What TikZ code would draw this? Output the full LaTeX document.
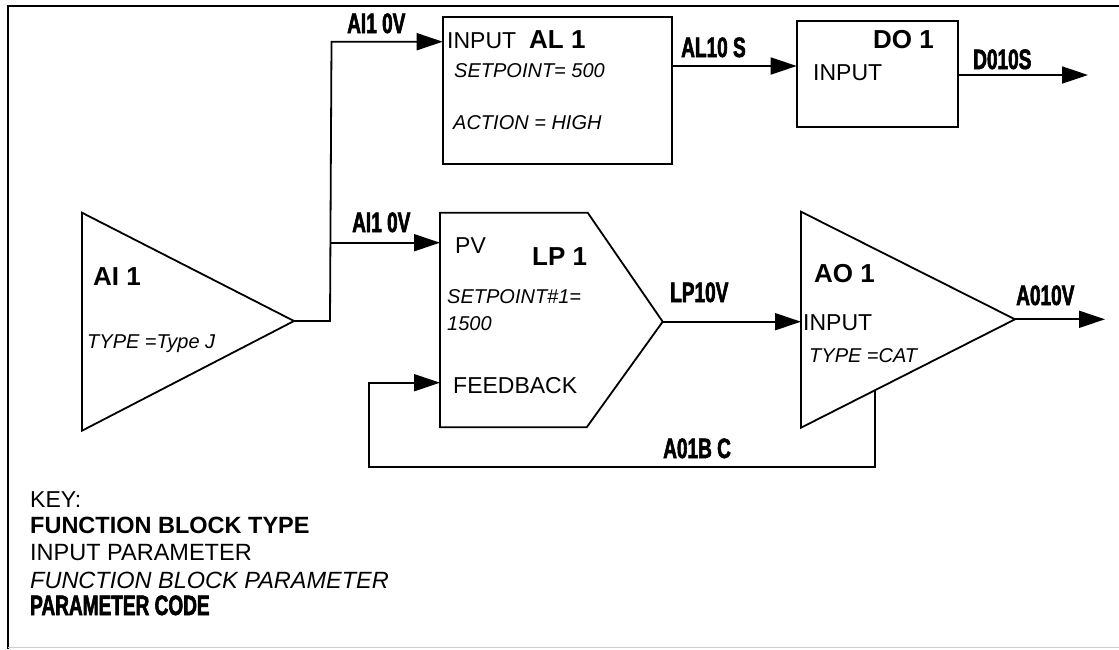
\documentclass[tikz,border=0pt]{standalone}
\usepackage{fontspec}
\setmainfont{Liberation Sans}
\newfontfamily\codefont[FakeStretch=0.68,BoldFeatures={FakeBold=2}]{Liberation Sans}
\usetikzlibrary{arrows.meta}
\tikzset{
  ln/.style={line width=1.8pt, line join=miter},
  arr/.style={ln, -{Triangle[length=26pt,width=17pt]}},
  txt/.style={anchor=base west, inner sep=0pt, font=\fontsize{23}{27}\selectfont},
  blk/.style={anchor=base west, inner sep=0pt, font=\fontsize{26}{30}\selectfont\bfseries},
  prm/.style={anchor=base west, inner sep=0pt, font=\fontsize{20}{24}\selectfont\itshape},
  code/.style={anchor=base west, inner sep=0pt, font=\fontsize{28}{32}\selectfont\codefont\bfseries},
  box/.style={ln, draw, inner sep=0pt},
}
\begin{document}
\begin{tikzpicture}[x=1pt,y=-1pt]
\useasboundingbox (0,0) rectangle (1119,649);
% frame
\draw[line width=2pt] (8,649) -- (8,6) -- (1119,6);
\draw[line width=1pt, black!20] (8,647.5) -- (1119,647.5);

% AL1 and DO1 boxes
\node[box, minimum width=229pt, minimum height=147.6pt] (AL1) at (557.2,90.5) {};
\node[box, minimum width=161pt, minimum height=106pt] (DO1) at (877.2,73.7) {};

% AI1 triangle
\coordinate (aiT) at (82,212.7);
\coordinate (aiB) at (82,430.7);
\coordinate (aiA) at (294,321);
\draw[ln] (aiT) -- (aiA) -- (aiB) -- cycle;

% LP1 pentagon
\coordinate (lpTL) at (440,212.7);
\coordinate (lpTR) at (587.7,212.7);
\coordinate (lpA) at (662.7,321.7);
\coordinate (lpBR) at (586.7,427.3);
\coordinate (lpBL) at (440,427.3);
\draw[ln] (lpTL) -- (lpTR) -- (lpA) -- (lpBR) -- (lpBL) -- cycle;

% AO1 triangle
\coordinate (aoT) at (801,211.7);
\coordinate (aoB) at (801,427.7);
\coordinate (aoA) at (1015,319.3);
\draw[ln] (aoT) -- (aoA) -- (aoB) -- cycle;

% connector points
\coordinate (j1) at (330,321);
\coordinate (j2) at (331.5,41.7);
\coordinate (alIn) at (442.7,41.7);
\coordinate (j3) at (330.6,242.7);
\coordinate (lpPV) at (440,242.7);
\coordinate (alOut) at (671.7,66);
\coordinate (doIn) at (796.7,66);
\coordinate (doOut) at (957.7,75);
\coordinate (doEnd) at (1088,75);
\coordinate (aoIn) at (801,321.7);
\coordinate (aoEnd) at (1105,319.3);
\coordinate (fbS) at (875,390.2);
\coordinate (fb1) at (875,466.7);
\coordinate (fb2) at (369,466.7);
\coordinate (fb3) at (369,382.7);
\coordinate (lpFB) at (440,382.7);

% connectors
\draw[arr] (aiA) -- (j1) -- (j2) -- (alIn);
\draw[arr] (j3) -- (lpPV);
\draw[arr] (alOut) -- (doIn);
\draw[arr] (doOut) -- (doEnd);
\draw[arr] (lpA) -- (aoIn);
\draw[arr] (aoA) -- (aoEnd);
\draw[arr] (fbS) -- (fb1) -- (fb2) -- (fb3) -- (lpFB);

% AL1 texts
\node[txt] (alInput) at (447,48) {INPUT};
\node[blk] (alName) at (529,48) {AL 1};
\node[prm] (alSp) at (454,77) {SETPOINT= 500};
\node[prm] (alAct) at (453,129) {ACTION = HIGH};

% DO1 texts
\node[blk] (doName) at (873,48) {DO 1};
\node[txt] (doInput) at (813,80) {INPUT};

% AI1 texts
\node[blk] (aiName) at (93,285) {AI 1};
\node[prm] (aiType) at (87,348) {TYPE =Type J};

% LP1 texts
\node[txt] (lpPVt) at (455,253) {PV};
\node[blk] (lpName) at (532,265) {LP 1};
\node[prm] (lpSp1) at (447,303) {SETPOINT\#1=};
\node[prm] (lpSp2) at (447,330) {1500};
\node[txt] (lpFBt) at (453,393) {FEEDBACK};

% AO1 texts
\node[blk] (aoName) at (814,282) {AO 1};
\node[txt] (aoInput) at (803,330) {INPUT};
\node[prm] (aoType) at (809,362) {TYPE =CAT};

% parameter codes
\node[code] (c1) at (347,33) {AI1 0V};
\node[code] (c2) at (352,232) {AI1 0V};
\node[code] (c3) at (681,57) {AL10 S};
\node[code] (c4) at (973,69) {D010S};
\node[code] (c5) at (670,302) {LP10V};
\node[code] (c6) at (1016,305) {A010V};
\node[code] (c7) at (663,458) {A01B C};

% key
\node[txt] (k1) at (30,507) {KEY:};
\node[txt, font=\fontsize{23.5}{27}\selectfont\bfseries] (k2) at (30,533) {FUNCTION BLOCK TYPE};
\node[txt, font=\fontsize{23.5}{27}\selectfont] (k3) at (30,560) {INPUT PARAMETER};
\node[txt, font=\fontsize{23.5}{27}\selectfont\itshape] (k4) at (30,588) {FUNCTION BLOCK PARAMETER};
\node[code] (k5) at (30,615) {PARAMETER CODE};
\end{tikzpicture}
\end{document}
